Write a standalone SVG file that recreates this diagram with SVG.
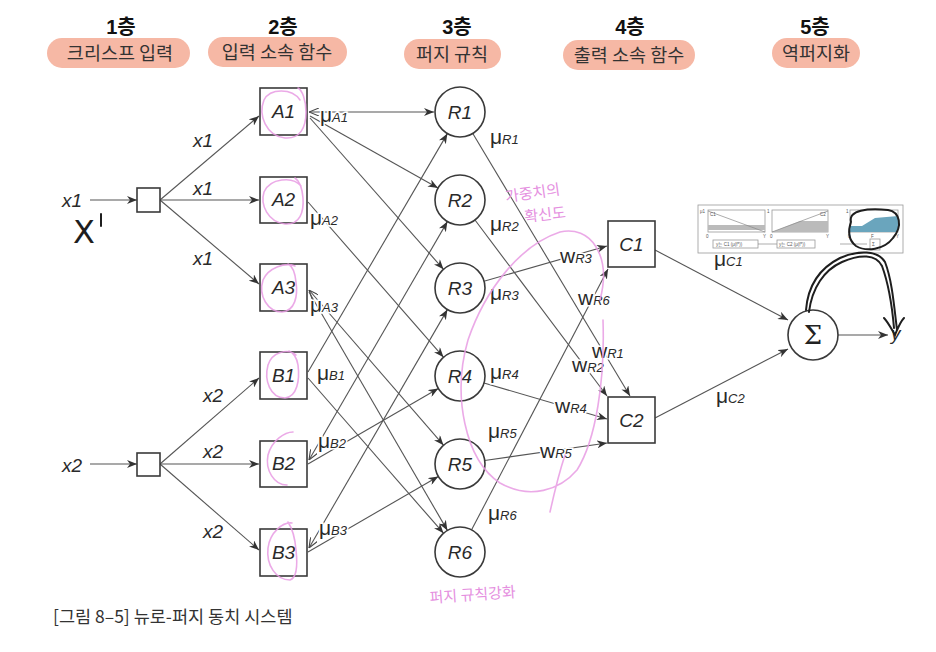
<svg xmlns="http://www.w3.org/2000/svg" width="936" height="652" viewBox="0 0 936 652">
<defs>
<style>
.hdr{font-family:"Liberation Sans","Noto Sans CJK KR",sans-serif;font-size:20px;font-weight:bold;fill:#111;text-anchor:middle}
.pill{fill:#f6b8a5}
.ptx{font-family:"Noto Sans CJK KR",sans-serif;font-size:18.5px;fill:#333;text-anchor:middle}
.box{fill:#fff;stroke:#3a3a3a;stroke-width:1.6}
.nl{font-family:"Liberation Sans",sans-serif;font-style:italic;font-size:19px;fill:#2a2a2a;text-anchor:middle}
.ln{stroke:#555;stroke-width:1.1;fill:none}
.lb{font-family:"Liberation Sans",sans-serif;font-size:21px;fill:#2a2a2a;paint-order:stroke;stroke:#fff;stroke-width:3px}
.sub{font-style:italic;font-size:13px}
.xl{font-family:"Liberation Sans",sans-serif;font-style:italic;font-size:19px;fill:#2a2a2a}
.pk{fill:none;stroke:#e79be3;stroke-width:1.6;stroke-linecap:round;opacity:.85}
.pkt{font-family:"Noto Sans CJK KR",sans-serif;fill:#e590df;font-size:15px}
.bk{fill:none;stroke:#1e1e1e;stroke-width:2;stroke-linecap:round}
.th{fill:#fff;stroke:#999;stroke-width:0.8}
.tt{font-family:"Liberation Sans","Noto Sans CJK KR",sans-serif;font-size:4.5px;fill:#555}
.cap{font-family:"Noto Sans CJK KR",sans-serif;font-size:17.5px;fill:#333}
</style>
<marker id="ar" viewBox="0 0 10 8" refX="10" refY="4" markerWidth="10" markerHeight="8" markerUnits="userSpaceOnUse" orient="auto">
<path d="M0,0 L10,4 L0,8 L3,4 Z" fill="#333"/>
</marker>
<marker id="op" viewBox="0 0 10 8" refX="0" refY="4" markerWidth="10" markerHeight="8" markerUnits="userSpaceOnUse" orient="auto">
<path d="M10,0 L0,4 L10,8" fill="none" stroke="#444" stroke-width="1.1"/>
</marker>
</defs>
<rect width="936" height="652" fill="#fff"/>

<g id="headers">
<text class="hdr" x="121" y="34">1층</text>
<rect class="pill" x="47" y="38" width="143" height="30" rx="15"/>
<text class="ptx" x="120" y="60">크리스프 입력</text>
<text class="hdr" x="283" y="34">2층</text>
<rect class="pill" x="208" y="37" width="139" height="30" rx="15"/>
<text class="ptx" x="277" y="59">입력 소속 함수</text>
<text class="hdr" x="457" y="34">3층</text>
<rect class="pill" x="404" y="39" width="97" height="30" rx="15"/>
<text class="ptx" x="452" y="61">퍼지 규칙</text>
<text class="hdr" x="630" y="34">4층</text>
<rect class="pill" x="563" y="40" width="132" height="30" rx="15"/>
<text class="ptx" x="629" y="62">출력 소속 함수</text>
<text class="hdr" x="815" y="34">5층</text>
<rect class="pill" x="772" y="38" width="88" height="30" rx="15"/>
<text class="ptx" x="816" y="60">역퍼지화</text>
</g>

<g id="connectors">
<line class="ln" x1="90" y1="200" x2="137" y2="200" marker-end="url(#ar)"/>
<line class="ln" x1="90" y1="464" x2="137" y2="464" marker-end="url(#ar)"/>
<line class="ln" x1="160" y1="200" x2="259" y2="116" marker-end="url(#ar)"/>
<line class="ln" x1="160" y1="200" x2="259" y2="200" marker-end="url(#ar)"/>
<line class="ln" x1="160" y1="200" x2="259" y2="284" marker-end="url(#ar)"/>
<line class="ln" x1="160" y1="464" x2="259" y2="378" marker-end="url(#ar)"/>
<line class="ln" x1="160" y1="464" x2="259" y2="464" marker-end="url(#ar)"/>
<line class="ln" x1="160" y1="464" x2="259" y2="550" marker-end="url(#ar)"/>

<line class="ln" x1="309" y1="112" x2="434" y2="112" marker-start="url(#op)" marker-end="url(#ar)"/>
<line class="ln" x1="310" y1="116" x2="438" y2="188" marker-end="url(#ar)"/>
<line class="ln" x1="310" y1="118" x2="443.5" y2="269.3" marker-end="url(#ar)"/>
<line class="ln" x1="308" y1="202" x2="443.5" y2="357.2" marker-end="url(#ar)"/>
<line class="ln" x1="309" y1="290" x2="443.5" y2="445.2" marker-start="url(#op)" marker-end="url(#ar)"/>
<line class="ln" x1="309" y1="292" x2="447.4" y2="530.4" marker-end="url(#ar)"/>
<line class="ln" x1="308" y1="372" x2="447.4" y2="133.6" marker-end="url(#ar)"/>
<line class="ln" x1="308" y1="378" x2="443.5" y2="533.2" marker-end="url(#ar)"/>
<line class="ln" x1="309" y1="460" x2="447.4" y2="221.6" marker-start="url(#op)" marker-end="url(#ar)"/>
<line class="ln" x1="308" y1="464" x2="438.3" y2="388.5" marker-end="url(#ar)"/>
<line class="ln" x1="309" y1="548" x2="447.4" y2="309.6" marker-start="url(#op)" marker-end="url(#ar)"/>
<line class="ln" x1="308" y1="552" x2="438.3" y2="476.5" marker-end="url(#ar)"/>

<line class="ln" x1="472.8" y1="133.5" x2="630" y2="396" marker-end="url(#ar)"/>
<line class="ln" x1="475" y1="220" x2="607" y2="396" marker-end="url(#ar)"/>
<line class="ln" x1="484" y1="281.2" x2="607" y2="246" marker-end="url(#ar)"/>
<line class="ln" x1="484" y1="383" x2="607" y2="419" marker-end="url(#ar)"/>
<line class="ln" x1="484.7" y1="460.5" x2="607" y2="443" marker-end="url(#ar)"/>
<line class="ln" x1="471.6" y1="529.8" x2="608" y2="269" marker-end="url(#ar)"/>

<line class="ln" x1="655" y1="250" x2="788" y2="320" marker-end="url(#ar)"/>
<line class="ln" x1="655" y1="418" x2="788" y2="349" marker-end="url(#ar)"/>
<line class="ln" x1="838" y1="335" x2="888" y2="335" marker-end="url(#ar)"/>
</g>

<g id="in1"><rect class="box" x="137" y="188" width="23" height="24"/></g>
<g id="in2"><rect class="box" x="137" y="453" width="23" height="23"/></g>
<g id="A1"><rect class="box" x="260" y="88" width="47" height="47"/><text class="nl" x="283.5" y="118">A1</text></g>
<g id="A2"><rect class="box" x="260" y="177" width="47" height="46"/><text class="nl" x="283.5" y="206">A2</text></g>
<g id="A3"><rect class="box" x="260" y="264" width="47" height="47"/><text class="nl" x="283.5" y="294">A3</text></g>
<g id="B1"><rect class="box" x="260" y="352" width="47" height="47"/><text class="nl" x="283.5" y="382">B1</text></g>
<g id="B2"><rect class="box" x="260" y="441" width="47" height="46"/><text class="nl" x="283.5" y="470">B2</text></g>
<g id="B3"><rect class="box" x="260" y="529" width="47" height="47"/><text class="nl" x="283.5" y="559">B3</text></g>
<g id="R1"><circle class="box" cx="460" cy="112" r="25"/><text class="nl" x="460" y="119">R1</text></g>
<g id="R2"><circle class="box" cx="460" cy="200" r="25"/><text class="nl" x="460" y="207">R2</text></g>
<g id="R3"><circle class="box" cx="460" cy="288" r="25"/><text class="nl" x="460" y="295">R3</text></g>
<g id="R4"><circle class="box" cx="460" cy="376" r="25"/><text class="nl" x="460" y="383">R4</text></g>
<g id="R5"><circle class="box" cx="460" cy="464" r="25"/><text class="nl" x="460" y="471">R5</text></g>
<g id="R6"><circle class="box" cx="460" cy="552" r="25"/><text class="nl" x="460" y="559">R6</text></g>
<g id="C1"><rect class="box" x="608" y="221" width="47" height="46"/><text class="nl" x="631.5" y="251">C1</text></g>
<g id="C2"><rect class="box" x="608" y="397" width="47" height="46"/><text class="nl" x="631.5" y="427">C2</text></g>
<g id="S"><circle class="box" cx="813" cy="335" r="25"/><text x="813" y="344" text-anchor="middle" font-family="DejaVu Serif,serif" font-size="26" fill="#222">Σ</text></g>

<g id="labels">
<text class="xl" x="62" y="207">x1</text>
<text class="xl" x="62" y="472">x2</text>
<text class="xl" x="193" y="147">x1</text>
<text class="xl" x="193" y="195">x1</text>
<text class="xl" x="193" y="265">x1</text>
<text class="xl" x="203" y="402">x2</text>
<text class="xl" x="203" y="458">x2</text>
<text class="xl" x="203" y="538">x2</text>
<text class="lb" x="320" y="122">μ<tspan class="sub">A1</tspan></text>
<text class="lb" x="310" y="225">μ<tspan class="sub">A2</tspan></text>
<text class="lb" x="310" y="312">μ<tspan class="sub">A3</tspan></text>
<text class="lb" x="317" y="380">μ<tspan class="sub">B1</tspan></text>
<text class="lb" x="318" y="448">μ<tspan class="sub">B2</tspan></text>
<text class="lb" x="319" y="535">μ<tspan class="sub">B3</tspan></text>
<text class="lb" x="490" y="144">μ<tspan class="sub">R1</tspan></text>
<text class="lb" x="490" y="231">μ<tspan class="sub">R2</tspan></text>
<text class="lb" x="490" y="300">μ<tspan class="sub">R3</tspan></text>
<text class="lb" x="490" y="379">μ<tspan class="sub">R4</tspan></text>
<text class="lb" x="488" y="438">μ<tspan class="sub">R5</tspan></text>
<text class="lb" x="488" y="520">μ<tspan class="sub">R6</tspan></text>
<text class="lb" x="714" y="266">μ<tspan class="sub">C1</tspan></text>
<text class="lb" x="716" y="403">μ<tspan class="sub">C2</tspan></text>
<text class="lb" x="560" y="263">w<tspan class="sub">R3</tspan></text>
<text class="lb" x="578" y="305">w<tspan class="sub">R6</tspan></text>
<text class="lb" x="592" y="358">w<tspan class="sub">R1</tspan></text>
<text class="lb" x="572" y="372">w<tspan class="sub">R2</tspan></text>
<text class="lb" x="555" y="413">w<tspan class="sub">R4</tspan></text>
<text class="lb" x="540" y="458">w<tspan class="sub">R5</tspan></text>
<text class="xl" x="891" y="340" font-size="20">y</text>
</g>

<g id="thumb">
<rect class="th" x="698" y="205" width="205" height="48"/>
<rect class="th" x="708" y="210" width="57" height="22"/>
<rect x="708" y="225" width="57" height="5" fill="#bbb"/>
<line x1="708" y1="211" x2="765" y2="232" stroke="#888" stroke-width="0.7"/>
<text class="tt" x="700" y="213">μ1</text><text class="tt" x="710" y="216">C1</text>
<text class="tt" x="706" y="238">0</text><text class="tt" x="763" y="238">Y</text>
<rect class="th" x="772" y="210" width="56" height="22"/>
<polygon points="772,232 800,221 828,221 828,232" fill="#bbb"/>
<line x1="772" y1="232" x2="828" y2="211" stroke="#888" stroke-width="0.7"/>
<text class="tt" x="767" y="213">1</text><text class="tt" x="820" y="216">C2</text>
<text class="tt" x="770" y="238">0</text><text class="tt" x="826" y="238">Y</text>
<rect class="th" x="850" y="210" width="48" height="22"/>
<polygon points="850,226 862,226 875,218 898,216 898,232 850,232" fill="#6aa5bd"/>
<text class="tt" x="846" y="213">1</text><text class="tt" x="848" y="238">0</text>
<text class="tt" x="871" y="238">F</text><text class="tt" x="896" y="238">Y</text>
<rect class="th" x="713" y="240" width="45" height="8"/>
<text class="tt" x="716" y="246">y는 C1 (μ(f*))</text>
<line x1="758" y1="244" x2="777" y2="244" stroke="#777" stroke-width="0.6"/>
<rect class="th" x="777" y="240" width="38" height="8"/>
<text class="tt" x="779" y="246">y는 C2 (μ(f*))</text>
<line x1="840" y1="244" x2="867" y2="244" stroke="#777" stroke-width="0.6"/>
<rect class="th" x="870" y="239" width="10" height="11"/>
<text class="tt" x="872" y="246">Σ</text>
</g>

<g id="notes">
<path class="pk" d="M300,100 C 292,88 270,88 264,100 C 258,115 266,136 285,138 C 300,139 306,128 306,112 C 306,100 302,90 298,88"/>
<path class="pk" d="M301,186 C 293,176 270,178 264,192 C 260,205 268,222 285,224 C 300,225 304,212 303,198 C 302,186 298,180 295,178"/>
<path class="pk" d="M295,266 C 285,262 268,268 263,280 C 258,296 268,312 282,312 C 295,311 298,296 296,282 C 295,272 292,266 288,264"/>
<path class="pk" d="M296,355 C 288,348 272,352 268,365 C 264,380 270,398 285,398 C 297,397 300,380 298,365 C 297,358 293,352 289,351"/>
<path class="pk" d="M293,432 C 285,432 272,440 268,455 C 265,470 274,485 287,485"/>
<path class="pk" d="M292,523 C 283,522 270,532 268,548 C 266,565 276,580 290,580 C 296,578 298,568 296,550 C 295,538 292,528 288,522"/>
<path class="pk" d="M600,300 C 612,255 590,225 560,232 C 520,245 485,290 468,340 C 452,395 465,460 500,483 C 530,500 560,490 577,470 C 596,440 605,380 603,320 M 550,512 C 556,485 560,470 565,455"/>
<text class="pkt" x="506" y="202" transform="rotate(-8 506 202)">가중치의</text>
<text class="pkt" x="525" y="222" transform="rotate(-6 525 222)">확신도</text>
<text class="pkt" x="430" y="603" font-size="16" transform="rotate(-4 430 603)">퍼지 규칙강화</text>
<text x="73" y="243" font-family="DejaVu Sans,sans-serif" font-size="32" fill="#1e1e1e">X</text>
<line class="bk" x1="101" y1="214" x2="101" y2="226" stroke-width="1.6"/>
<path class="bk" d="M851,222 C 848,210 868,208 888,210 C 900,212 903,226 893,238 C 884,250 866,252 856,246 C 848,240 848,230 851,222"/>
<path class="bk" d="M806,310 C 808,285 820,268 840,258 C 858,250 878,250 885,262 C 892,280 894,305 897,330 M 809,312 C 812,288 824,270 842,262 C 860,254 876,254 882,266 C 889,285 892,305 894,328 M 884,318 C 888,322 892,330 895,335 C 898,328 900,322 904,318"/>
</g>

<text class="cap" x="53" y="623">[그림 8–5] 뉴로-퍼지 동치 시스템</text>
</svg>
